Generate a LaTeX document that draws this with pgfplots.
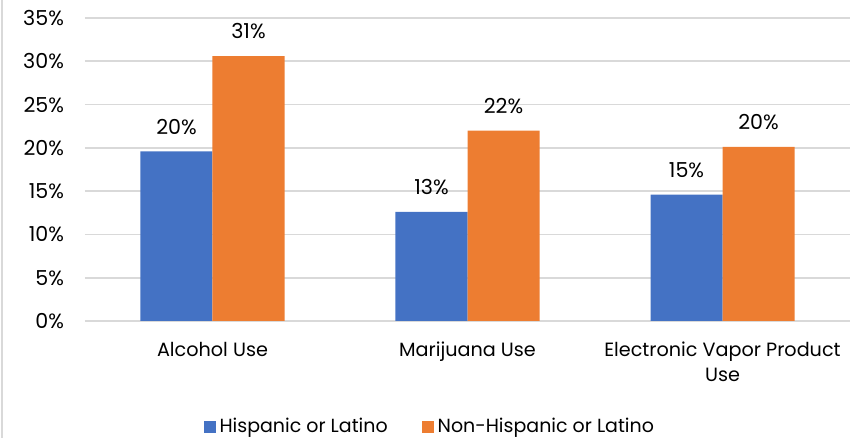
\documentclass[border=0pt]{standalone}
\usepackage{pgfplots}
\pgfplotsset{compat=1.18}
\usepackage{fontspec}
\setmainfont{Poppins}
\definecolor{hisp}{HTML}{4472C4}
\definecolor{nonhisp}{HTML}{ED7D31}
\definecolor{gridgray}{HTML}{D9D9D9}
\begin{document}
\begin{tikzpicture}
\path[use as bounding box] (0,0) rectangle (431.5pt,219pt);
\draw[gridgray, line width=1pt] (0.8pt,0) -- (0.8pt,219pt);
\begin{axis}[
  at={(42.5pt,58.5pt)}, anchor=south west,
  scale only axis, width=382.5pt, height=151.5pt,
  ybar=0pt, bar width=36pt,
  xmin=-0.5, xmax=2.5, ymin=0, ymax=35,
  xtick=data,
  xticklabels={Alcohol Use, Marijuana Use, {Electronic Vapor Product\\Use}},
  xticklabel style={align=center, font=\fontsize{9.6}{12.5}\selectfont, yshift=-7pt},
  ytick={0,5,...,35},
  yticklabel={\pgfmathprintnumber{\tick}\%},
  yticklabel style={font=\fontsize{10.3}{11}\selectfont, xshift=-7pt},
  /pgf/number format/assume math mode=true,
  major tick length=0pt,
  axis line style={draw=none},
  ymajorgrids, grid style={gridgray, line width=0.8pt},
  nodes near coords={\pgfmathprintnumber[fixed,precision=0]{\pgfplotspointmeta}\%},
  nodes near coords style={font=\fontsize{10.3}{11}\selectfont, black, yshift=5pt},
  legend style={at={(0.452,-0.35)}, anchor=center, draw=none, fill=none,
    legend columns=2, font=\fontsize{9.5}{11}\selectfont,
    /tikz/every even column/.append style={column sep=15pt}},
  legend image code/.code={\fill[#1] (0pt,-3pt) rectangle (6pt,3pt);},
  clip=false,
]
\addplot[fill=hisp, draw=none] coordinates {(0,19.6) (1,12.6) (2,14.6)};
\addplot[fill=nonhisp, draw=none] coordinates {(0,30.6) (1,22.0) (2,20.1)};
\legend{Hispanic or Latino, Non-Hispanic or Latino}
\end{axis}
\end{tikzpicture}
\end{document}
